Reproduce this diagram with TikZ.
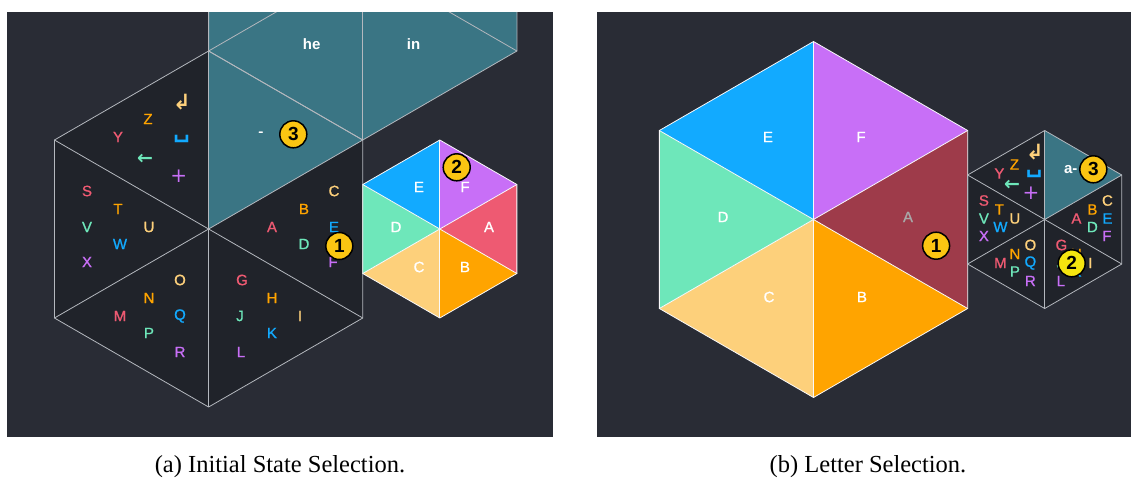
\documentclass[tikz,border=0pt]{standalone}
\usepackage{fontspec}
\setmainfont{Liberation Sans}
\newfontfamily\ltrfont{Liberation Sans}[FakeBold=1]
\newfontfamily\capfont{Liberation Serif}
\newfontfamily\symfont{DejaVu Sans}
\usetikzlibrary{calc}
\definecolor{cBg}{HTML}{292C35}
\definecolor{cCell}{HTML}{20232A}
\definecolor{cTeal}{HTML}{3A7584}
\definecolor{cRed}{HTML}{EE5A72}
\definecolor{cOra}{HTML}{FFA400}
\definecolor{cLor}{HTML}{FDD07B}
\definecolor{cGrn}{HTML}{6EE7BA}
\definecolor{cBlu}{HTML}{12AAFF}
\definecolor{cPur}{HTML}{C86FF7}
\definecolor{cDred}{HTML}{9E3B4A}
\definecolor{cYel}{HTML}{FBC512}
\definecolor{cLem}{HTML}{F5E50F}
\definecolor{cLine}{HTML}{B4B8BE}
\definecolor{cGray}{HTML}{A8A8A8}

\newcommand\tri[5]{\fill[#5] (#1,#2) -- ($(#1,#2)+(#4:#3)$) -- ($(#1,#2)+(#4+60:#3)$) -- cycle;}
\newcommand\hexlines[4]{%
  \begin{scope}[shift={(#1,#2)}]
    \draw[#4] (30:#3) -- (90:#3) -- (150:#3) -- (210:#3) -- (270:#3) -- (330:#3) -- cycle;
    \foreach \a in {30,90,...,330} \draw[#4] (0,0) -- (\a:#3);
  \end{scope}}
\newcommand\cluster[4]{%
  \foreach \txt/\col/\dx/\dy [count=\i] in {%
    Y/cRed/-90.6/-92, Z/cOra/-60.6/-110,
    S/cRed/-121.6/-38, T/cOra/-90.6/-20, U/cLor/-59.6/-2, V/cGrn/-121.6/-2, W/cBlu/-88.6/15, X/cPur/-121.6/33,
    A/cRed/63.4/-2, B/cOra/95.4/-20, C/cLor/125.4/-38, D/cGrn/95.4/15, E/cBlu/125.4/-2, F/cPur/124.4/33,
    M/cRed/-88.6/87, N/cOra/-59.6/69, O/cLor/-28.6/51, P/cGrn/-59.6/104, Q/cBlu/-28.6/87, R/cPur/-28.6/123,
    G/cRed/33.4/51, H/cOra/63.4/69, I/cLor/91.4/87, J/cGrn/31.4/87, K/cBlu/63.4/104, L/cPur/32.4/123}
  {\node[lt, text=\col] (#1\i) at ({#2+#4*\dx},{#3+#4*\dy}) {\txt};}}
% symbols: prefix, enter xy, space xy, back xy, plus xy
\newcommand\symbols[9]{%
  \node[sym, text=cLor, font=\symfont\bfseries\fontsize{21}{21}\selectfont] (#1ent) at (#2,#3) {↲};
  \node[sym, text=cBlu, font=\symfont\bfseries\fontsize{23}{23}\selectfont] (#1spc) at (#4,#5) {␣};
  \node[sym, text=cGrn, font=\symfont\bfseries\fontsize{19}{19}\selectfont] (#1bck) at (#6,#7) {←};
  \node[sym, text=cPur, font=\symfont\fontsize{20}{20}\selectfont] (#1pls) at (#8,#9) {+};
}

\begin{document}
\begin{tikzpicture}[x=1pt,y=-1pt,
  lt/.style={inner sep=0pt, font=\ltrfont\fontsize{15}{15}\selectfont},
  sym/.style={inner sep=0pt},
  wl/.style={lt, text=white},
  wb/.style={inner sep=0pt, text=white, font=\fontsize{15}{15}\selectfont\bfseries},
  badge/.style={circle, fill=cYel, draw=black, line width=1.5pt, minimum size=27pt, inner sep=0pt, font=\fontsize{19}{19}\selectfont\bfseries},
  gline/.style={draw=cLine, line width=0.8pt},
  wline/.style={draw=white!92!cLine, line width=0.8pt},
  captxt/.style={font=\capfont\fontsize{24.5}{24.5}\selectfont, anchor=base, inner sep=0pt}]
\useasboundingbox (0,0) rectangle (1131,477);
\fill[white] (0,0) rectangle (1131,477);
\fill[cBg] (7,12) rectangle (553,437);
\fill[cBg] (597,12) rectangle (1131,437);

% ---------------- panel (a)
\begin{scope}
  \clip (7,12) rectangle (553,437);
  % teal neighbour hexagon
  \foreach \a in {30,90,...,330} {\tri{362.75}{-38}{178}{\a}{cTeal}}
  % big hexagon
  \foreach \a in {330,30,90,150,210} {\tri{208.6}{229}{178}{\a}{cCell}}
  \tri{208.6}{229}{178}{270}{cTeal}
  % small hexagon
  \tri{439.8}{229}{89}{330}{cRed}
  \tri{439.8}{229}{89}{30}{cOra}
  \tri{439.8}{229}{89}{90}{cLor}
  \tri{439.8}{229}{89}{150}{cGrn}
  \tri{439.8}{229}{89}{210}{cBlu}
  \tri{439.8}{229}{89}{270}{cPur}
  \hexlines{362.75}{-38}{178}{gline}
  \hexlines{208.6}{229}{178}{gline}
  \hexlines{439.8}{229}{89}{wline}
\end{scope}
\node[wb] (he) at (311.7,44) {he};
\node[wb] (in) at (413.5,44) {in};
\node[wl] (dash) at (260.7,134) {-};
\cluster{a}{208.6}{229}{1}
\symbols{a}{182}{102}{181.6}{139}{145}{159}{178.7}{176.7}
\node[wl] (sE) at (419,187) {E};
\node[wl] (sF) at (465,187) {F};
\node[wl] (sA) at (489,227) {A};
\node[wl] (sB) at (465,267) {B};
\node[wl] (sC) at (419,267) {C};
\node[wl] (sD) at (396,227) {D};
\node[badge] (a1) at (339.3,246) {1};
\node[badge] (a2) at (456.7,167.3) {2};
\node[badge] (a3) at (293.3,134.3) {3};

% ---------------- panel (b)
\begin{scope}
  \clip (597,12) rectangle (1131,437);
  \tri{813.5}{219.5}{178}{330}{cDred}
  \tri{813.5}{219.5}{178}{30}{cOra}
  \tri{813.5}{219.5}{178}{90}{cLor}
  \tri{813.5}{219.5}{178}{150}{cGrn}
  \tri{813.5}{219.5}{178}{210}{cBlu}
  \tri{813.5}{219.5}{178}{270}{cPur}
  \foreach \a in {330,30,90,150,210} {\tri{1044.7}{219.5}{89}{\a}{cCell}}
  \tri{1044.7}{219.5}{89}{270}{cTeal}
  \hexlines{813.5}{219.5}{178}{wline}
  \hexlines{1044.7}{219.5}{89}{gline}
\end{scope}
\node[wl] (bE) at (768,137) {E};
\node[wl] (bF) at (861,137) {F};
\node[wl] (bD) at (723,217) {D};
\node[lt, text=cGray] (bA) at (908,217) {A};
\node[wl] (bC) at (769,297) {C};
\node[wl] (bB) at (862,297) {B};
\cluster{b}{1044.7}{219.5}{0.5}
\symbols{b}{1035}{152}{1034}{174}{1012}{185}{1031}{193}
\node[wb] (am) at (1070.7,169.3) {a-};
\node[badge] (b1) at (936.1,245.7) {1};
\node[badge, fill=cLem] (b2) at (1071.7,263.3) {2};
\node[badge] (b3) at (1093.3,169.3) {3};

% captions
\node[captxt] (capa) at (280,472) {(a) Initial State Selection.};
\node[captxt] (capb) at (868,472) {(b) Letter Selection.};
\end{tikzpicture}
\end{document}
